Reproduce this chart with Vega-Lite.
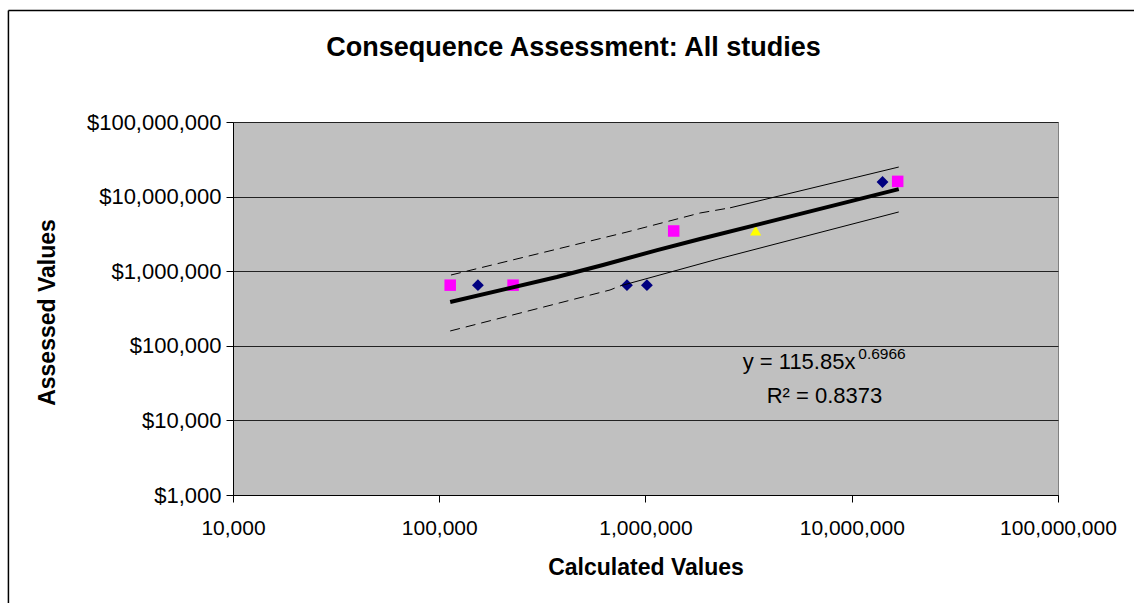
{
  "$schema": "https://vega.github.io/schema/vega-lite/v6.json",
  "width": 825,
  "height": 373,
  "autosize": {"type": "none"},
  "padding": {"left": 233, "top": 122, "right": 76, "bottom": 108},
  "background": "white",
  "title": {
    "text": "Consequence Assessment: All studies",
    "font": "Liberation Sans",
    "fontSize": 27,
    "fontWeight": "bold",
    "color": "black",
    "anchor": "middle",
    "frame": "group",
    "offset": 0,
    "dy": 52,
    "dx": -72
  },
  "config": {
    "font": "Liberation Sans",
    "view": {"fill": "#C0C0C0", "stroke": "#808080", "strokeWidth": 1}
  },
  "datasets": {
    "points": [
      {"series": "Series1", "x": 154000, "y": 650000},
      {"series": "Series1", "x": 813000, "y": 650000},
      {"series": "Series1", "x": 1016000, "y": 650000},
      {"series": "Series1", "x": 14100000, "y": 15700000},
      {"series": "Series2", "x": 113000, "y": 650000},
      {"series": "Series2", "x": 228000, "y": 650000},
      {"series": "Series2", "x": 1370000, "y": 3460000},
      {"series": "Series2", "x": 16700000, "y": 16000000},
      {"series": "Series3", "x": 3420000, "y": 3500000}
    ],
    "trend": [
      {"x": 113000, "y": 386000},
      {"x": 372000, "y": 836000},
      {"x": 622000, "y": 1210000},
      {"x": 1140000, "y": 1920000},
      {"x": 1840000, "y": 2700000},
      {"x": 16900000, "y": 12600000}
    ],
    "bandDashed": [
      {"band": "upper", "x": 114000, "y": 889000},
      {"band": "upper", "x": 813000, "y": 3350000},
      {"band": "upper", "x": 1840000, "y": 6030000},
      {"band": "upper", "x": 2570000, "y": 7070000},
      {"band": "lower", "x": 113000, "y": 158000},
      {"band": "lower", "x": 673000, "y": 560000},
      {"band": "lower", "x": 752000, "y": 634000}
    ],
    "bandSolid": [
      {"band": "upper", "x": 2570000, "y": 7070000},
      {"band": "upper", "x": 16900000, "y": 24900000},
      {"band": "lower", "x": 752000, "y": 634000},
      {"band": "lower", "x": 2250000, "y": 1460000},
      {"band": "lower", "x": 16900000, "y": 6220000}
    ],
    "frame": [
      {"x": 815, "y": 3120000000, "x2": 815, "y2": 20},
      {"x": 815, "y": 3120000000, "x2": 300000000, "y2": 3120000000}
    ]
  },
  "layer": [
    {
      "data": {"name": "points"},
      "mark": {"type": "point", "filled": true, "opacity": 1},
      "encoding": {
        "x": {
          "field": "x", "type": "quantitative",
          "scale": {"type": "log", "domain": [10000, 100000000], "nice": false},
          "axis": {
            "values": [10000, 100000, 1000000, 10000000, 100000000],
            "format": ",.0f",
            "grid": false,
            "domainColor": "black",
            "tickColor": "black",
            "tickSize": 7,
            "labelFontSize": 21,
            "labelColor": "black",
            "labelPadding": 15,
            "labelFlush": false,
            "labelOverlap": false,
            "title": "Calculated Values",
            "titleFontSize": 23,
            "titleFontWeight": "bold",
            "titleColor": "black",
            "titleY": 72,
            "titleBaseline": "middle"
          }
        },
        "y": {
          "field": "y", "type": "quantitative",
          "scale": {"type": "log", "domain": [1000, 100000000], "nice": false},
          "axis": {
            "values": [1000, 10000, 100000, 1000000, 10000000, 100000000],
            "format": "$,.0f",
            "grid": true,
            "gridColor": "#222222",
            "gridOpacity": 1,
            "domainColor": "black",
            "tickColor": "black",
            "tickSize": 7,
            "labelFontSize": 22,
            "labelColor": "black",
            "labelPadding": 5,
            "labelFlush": false,
            "labelOverlap": false,
            "title": "Assessed Values",
            "titleFontSize": 23,
            "titleFontWeight": "bold",
            "titleColor": "black",
            "titleX": -186,
            "titleY": 190,
            "titleBaseline": "middle"
          }
        },
        "color": {
          "field": "series", "type": "nominal",
          "scale": {"domain": ["Series1", "Series2", "Series3"], "range": ["#000080", "#FF00FF", "#FFFF00"]},
          "legend": null
        },
        "shape": {
          "field": "series", "type": "nominal",
          "scale": {"domain": ["Series1", "Series2", "Series3"], "range": ["diamond", "square", "triangle-up"]},
          "legend": null
        },
        "size": {
          "field": "series", "type": "nominal",
          "scale": {"domain": ["Series1", "Series2", "Series3"], "range": [140, 125, 240]},
          "legend": null
        }
      }
    },
    {
      "data": {"name": "bandDashed"},
      "mark": {"type": "line", "color": "black", "strokeWidth": 1, "strokeDash": [10, 6]},
      "encoding": {
        "x": {"field": "x", "type": "quantitative"},
        "y": {"field": "y", "type": "quantitative"},
        "detail": {"field": "band", "type": "nominal"}
      }
    },
    {
      "data": {"name": "bandSolid"},
      "mark": {"type": "line", "color": "black", "strokeWidth": 1},
      "encoding": {
        "x": {"field": "x", "type": "quantitative"},
        "y": {"field": "y", "type": "quantitative"},
        "detail": {"field": "band", "type": "nominal"}
      }
    },
    {
      "data": {"name": "trend"},
      "mark": {"type": "line", "color": "black", "strokeWidth": 4},
      "encoding": {
        "x": {"field": "x", "type": "quantitative"},
        "y": {"field": "y", "type": "quantitative"}
      }
    },
    {
      "data": {"name": "frame"},
      "mark": {"type": "rule", "color": "black", "strokeWidth": 1.5, "clip": false},
      "encoding": {
        "x": {"field": "x", "type": "quantitative"},
        "y": {"field": "y", "type": "quantitative"},
        "x2": {"field": "x2"},
        "y2": {"field": "y2"}
      }
    },
    {
      "data": {"values": [
        {"x": 2960000, "y": 48400, "label": "y = 115.85x"},
        {"x": 3870000, "y": 16950, "label": "R² = 0.8373"}
      ]},
      "mark": {"type": "text", "align": "left", "baseline": "alphabetic", "fontSize": 22, "color": "black", "font": "Liberation Sans"},
      "encoding": {
        "x": {"field": "x", "type": "quantitative"},
        "y": {"field": "y", "type": "quantitative"},
        "text": {"field": "label"}
      }
    },
    {
      "data": {"values": [
        {"x": 10760000, "y": 65900, "label": "0.6966"}
      ]},
      "mark": {"type": "text", "align": "left", "baseline": "alphabetic", "fontSize": 15.5, "color": "black", "font": "Liberation Sans"},
      "encoding": {
        "x": {"field": "x", "type": "quantitative"},
        "y": {"field": "y", "type": "quantitative"},
        "text": {"field": "label"}
      }
    }
  ]
}
